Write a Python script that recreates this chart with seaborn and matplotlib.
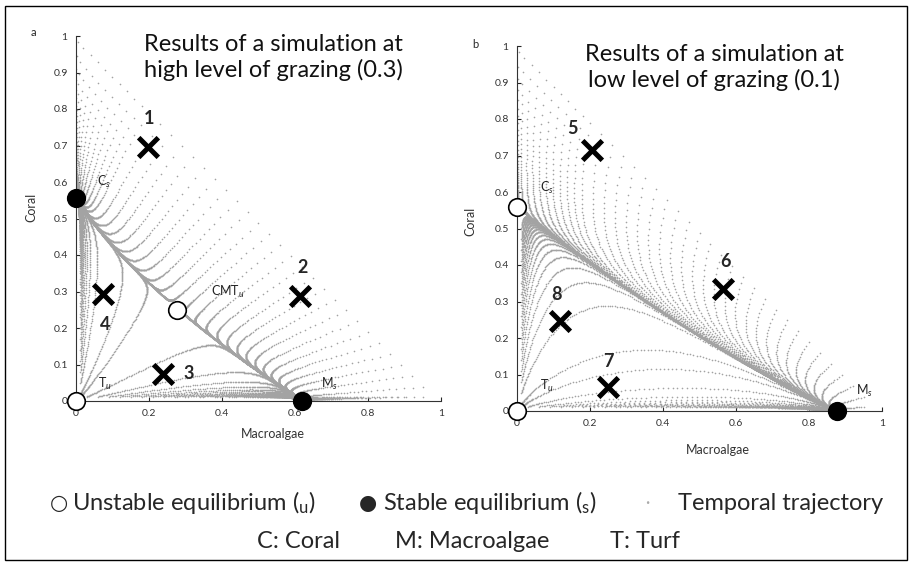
import numpy as np
import pandas as pd
import matplotlib
matplotlib.use("Agg")
import matplotlib.pyplot as plt
import seaborn as sns
from matplotlib.patches import Rectangle

sns.set_theme(style="white")
plt.rcParams['font.family'] = ['Lato', 'DejaVu Sans']
plt.rcParams['mathtext.fontset'] = 'custom'
plt.rcParams['mathtext.rm'] = 'Lato'
plt.rcParams['mathtext.it'] = 'Lato:italic'

# ---- model parameters (coral / macroalgae / turf model) ----
a_rate = 0.1      # macroalgae overgrowth of coral
gamma = 0.8       # macroalgae spread over turf
r_rate = 1.0      # coral growth over turf
d_rate = 0.44     # coral mortality
grazing = {"a": 0.3, "b": 0.1}

# ---- initial conditions of the temporal trajectories ----
hyp_M = [0.005, 0.02, 0.04, 0.06, 0.08, 0.10, 0.12, 0.14, 0.16, 0.18, 0.20, 0.23, 0.26,
         0.29, 0.32, 0.35, 0.38, 0.41, 0.44, 0.47, 0.50, 0.53, 0.56, 0.59, 0.62, 0.65,
         0.68, 0.71, 0.74, 0.77, 0.80, 0.83, 0.86, 0.89, 0.92, 0.95]
left_C = [0.02, 0.05, 0.08, 0.11, 0.14, 0.17, 0.20, 0.23, 0.26, 0.29, 0.32, 0.35,
          0.38, 0.41, 0.44, 0.47, 0.50]
bottom_M = [0.03, 0.06, 0.09, 0.12, 0.15, 0.18, 0.21, 0.24, 0.27, 0.30, 0.34, 0.38,
            0.42, 0.46, 0.50, 0.55, 0.60, 0.66, 0.72, 0.78, 0.84, 0.90, 0.95]
edge_gap = 0.012

# ---- equilibria ----
eq_a_x = [0.0, 0.277, 0.0, 0.62]
eq_a_y = [0.556, 0.249, 0.0, 0.0]
eq_a_stable = [True, False, False, True]
eq_a_names = ["C$_s$", "CMT$_u$", "T$_u$", "M$_s$"]
eq_b_x = [0.0, 0.0, 0.877]
eq_b_y = [0.559, 0.0, 0.0]
eq_b_stable = [False, False, True]
eq_b_names = ["C$_s$", "T$_u$", "M$_s$"]

# ---- cross markers (numbered states) ----
cross_a_x = [0.197, 0.614, 0.238, 0.074]
cross_a_y = [0.696, 0.288, 0.074, 0.293]
cross_a_lab = ["1", "2", "3", "4"]
cross_b_x = [0.205, 0.564, 0.250, 0.118]
cross_b_y = [0.715, 0.334, 0.066, 0.247]
cross_b_lab = ["5", "6", "7", "8"]

xticks = [0, 0.2, 0.4, 0.6, 0.8, 1]
yticks = [0, 0.1, 0.2, 0.3, 0.4, 0.5, 0.6, 0.7, 0.8, 0.9, 1]


def rhs(M, C, g):
    T = 1.0 - M - C
    dM = a_rate * M * C - g * M / max(M + T, 1e-6) + gamma * M * T
    dC = r_rate * T * C - d_rate * C - a_rate * M * C
    return dM, dC


def starts():
    pts = [(m, 1.0 - edge_gap - m) for m in hyp_M]
    pts += [(edge_gap, c) for c in left_C]
    pts += [(m, edge_gap) for m in bottom_M]
    pts += [(edge_gap, edge_gap)]
    return pts


def simulate(g, dt=0.1, nsteps=420):
    rows = []
    for k, (M, C) in enumerate(starts()):
        for _ in range(nsteps):
            rows.append((k, M, C))
            k1 = rhs(M, C, g)
            k2 = rhs(M + dt / 2 * k1[0], C + dt / 2 * k1[1], g)
            k3 = rhs(M + dt / 2 * k2[0], C + dt / 2 * k2[1], g)
            k4 = rhs(M + dt * k3[0], C + dt * k3[1], g)
            M += dt / 6 * (k1[0] + 2 * k2[0] + 2 * k3[0] + k4[0])
            C += dt / 6 * (k1[1] + 2 * k2[1] + 2 * k3[1] + k4[1])
    return pd.DataFrame(rows, columns=["traj", "M", "C"])


fig = plt.figure(figsize=(9.12, 5.65), dpi=100)
W, H = 912, 565
ax_a = fig.add_axes([76 / W, 1 - 401 / H, 365 / W, 365 / H])
ax_b = fig.add_axes([517 / W, 1 - 411 / H, 365 / W, 365 / H])


def fmt(v):
    return "0" if v == 0 else ("1" if v == 1 else f"{v:.1f}")


def draw_panel(ax, g, ex, ey, est, enames, name_pos, cx, cy, clab, lab_pos, title,
               xlab_xy, ylab_xy):
    df = simulate(g)
    sns.scatterplot(data=df, x="M", y="C", s=1.4, color="#a3a3a3", linewidth=0,
                    edgecolor=None, ax=ax, legend=False)
    for x, y, s in zip(ex, ey, est):
        ax.scatter([x], [y], s=160, facecolor="black" if s else "white",
                   edgecolor="black", linewidth=1.2, zorder=5, clip_on=False)
    for nm, (tx, ty) in zip(enames, name_pos):
        ax.text(tx, ty, nm, fontsize=9, color="#222222", ha="left", va="center")
    sns.scatterplot(x=cx, y=cy, marker="x", s=200, color="black", linewidth=3.6, ax=ax,
                    zorder=6, legend=False)
    for lb, (tx, ty) in zip(clab, lab_pos):
        ax.text(tx, ty, lb, fontsize=13, fontweight="bold", ha="center", va="center")
    ax.set_xlim(0, 1)
    ax.set_ylim(0, 1)
    ax.set_xticks(xticks)
    ax.set_xticklabels([fmt(v) for v in xticks], fontsize=7.5, color="#333333")
    ax.set_yticks(yticks)
    ax.set_yticklabels([fmt(v) for v in yticks], fontsize=7.5, color="#333333")
    ax.tick_params(direction="in", length=3, width=0.8, pad=6, left=True, bottom=True)
    for sp in ["top", "right"]:
        ax.spines[sp].set_visible(False)
    for sp in ["left", "bottom"]:
        ax.spines[sp].set_color("#333333")
        ax.spines[sp].set_linewidth(0.8)
    ax.set_xlabel("Macroalgae", fontsize=9, color="#333333")
    ax.set_ylabel("Coral", fontsize=9, color="#333333")
    ax.xaxis.set_label_coords(*xlab_xy)
    ax.yaxis.set_label_coords(*ylab_xy)
    ax.text(0.54, 1.005, title, fontsize=17, ha="center", va="top", linespacing=1.2,
            color="#111111")


draw_panel(ax_a, grazing["a"], eq_a_x, eq_a_y, eq_a_stable, eq_a_names,
           [(0.057, 0.60), (0.37, 0.30), (0.06, 0.047), (0.67, 0.047)],
           cross_a_x, cross_a_y, cross_a_lab,
           [(0.20, 0.775), (0.62, 0.365), (0.31, 0.074), (0.08, 0.21)],
           "Results of a simulation at\nhigh level of grazing (0.3)",
           (0.54, -0.075), (-0.107, 0.53))
draw_panel(ax_b, grazing["b"], eq_b_x, eq_b_y, eq_b_stable, eq_b_names,
           [(0.063, 0.61), (0.063, 0.07), (0.93, 0.055)],
           cross_b_x, cross_b_y, cross_b_lab,
           [(0.153, 0.775), (0.57, 0.41), (0.25, 0.135), (0.107, 0.32)],
           "Results of a simulation at\nlow level of grazing (0.1)",
           (0.55, -0.09), (-0.11, 0.52))

fig.text(33 / W, 1 - 33 / H, "a", fontsize=8, ha="center", va="center")
fig.text(475 / W, 1 - 45 / H, "b", fontsize=8, ha="center", va="center")

# ---- bottom legend ----
ly1 = 1 - 503 / H
ly2 = 1 - 542 / H
fs = 17
fig.text(59 / W, ly1, "\u25CB", fontsize=15, ha="center", va="center",
         family=["DejaVu Sans"])
fig.text(72 / W, ly1, "Unstable equilibrium ($_{\\mathrm{u}}$)", fontsize=fs,
         ha="left", va="center")
fig.text(368 / W, ly1, "\u25CF", fontsize=15, ha="center", va="center",
         family=["DejaVu Sans"])
fig.text(383 / W, ly1, "Stable equilibrium ($_{\\mathrm{s}}$)", fontsize=fs,
         ha="left", va="center")
fig.text(647 / W, ly1, "\u00B7", fontsize=12, ha="center", va="center", color="#aaaaaa")
fig.text(678 / W, ly1, "Temporal trajectory", fontsize=fs, ha="left", va="center")
fig.text(257 / W, ly2, "C: Coral", fontsize=fs, ha="left", va="center")
fig.text(395 / W, ly2, "M: Macroalgae", fontsize=fs, ha="left", va="center")
fig.text(610 / W, ly2, "T: Turf", fontsize=fs, ha="left", va="center")

fig.patches.append(Rectangle((5 / W, 5 / H), 902 / W, 554 / H, transform=fig.transFigure,
                             fill=False, edgecolor="black", linewidth=1.0))

fig.savefig("out.png", dpi=100)
